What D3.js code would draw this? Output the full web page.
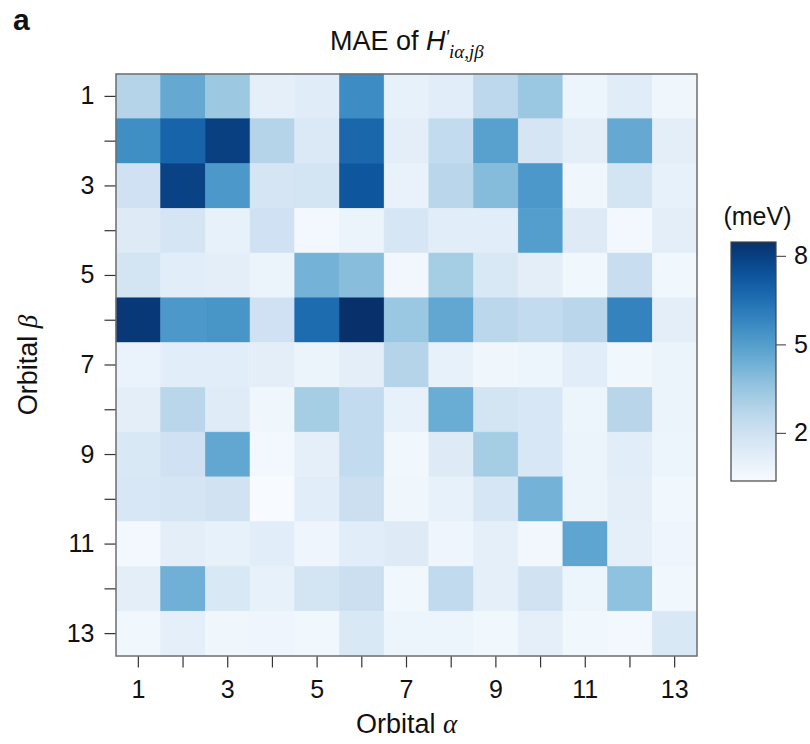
<!DOCTYPE html>
<html>
<head>
<meta charset="utf-8">
<script src="https://cdn.jsdelivr.net/npm/d3@7"></script>
<style>
  html, body { margin: 0; padding: 0; background: #fff; }
  svg { display: block; }
  text { font-family: "Liberation Sans", Arial, Helvetica, sans-serif; fill: #111; }
</style>
</head>
<body>
<svg id="chart" width="810" height="744"></svg>
<script>
// Orbital indices along each axis
const orbitalsAlpha = [1, 2, 3, 4, 5, 6, 7, 8, 9, 10, 11, 12, 13];
const orbitalsBeta  = [1, 2, 3, 4, 5, 6, 7, 8, 9, 10, 11, 12, 13];

// MAE (meV) per orbital pair: one array per orbital β (row), entries by orbital α
const maeBeta1  = [2.80, 4.60, 3.40, 1.10, 1.30, 5.60, 1.00, 1.26, 2.60, 3.45, 0.77, 1.30, 0.70];
const maeBeta2  = [5.55, 6.85, 7.98, 2.80, 1.50, 6.77, 1.18, 2.40, 4.90, 1.75, 1.18, 4.60, 1.18];
const maeBeta3  = [2.00, 7.90, 5.20, 1.75, 1.83, 7.30, 0.94, 2.70, 3.90, 5.20, 0.70, 1.83, 1.00];
const maeBeta4  = [1.40, 1.75, 1.00, 2.00, 0.53, 0.86, 1.67, 1.26, 1.26, 5.00, 1.40, 0.53, 1.18];
const maeBeta5  = [1.83, 1.26, 1.18, 0.86, 4.26, 3.85, 0.61, 3.20, 1.60, 1.18, 0.65, 2.23, 0.65];
const maeBeta6  = [8.23, 5.20, 5.30, 2.00, 6.60, 8.47, 3.45, 4.66, 2.64, 2.40, 2.68, 5.88, 1.18];
const maeBeta7  = [0.90, 1.26, 1.26, 1.18, 0.86, 1.18, 2.80, 1.00, 0.70, 0.77, 1.26, 0.65, 0.86];
const maeBeta8  = [1.18, 2.68, 1.34, 0.70, 3.20, 2.40, 1.00, 4.50, 1.83, 1.63, 0.77, 2.72, 0.86];
const maeBeta9  = [1.60, 2.00, 4.66, 0.53, 1.10, 2.40, 0.65, 1.40, 3.20, 1.63, 0.86, 1.26, 0.77];
const maeBeta10 = [1.63, 1.75, 1.90, 0.37, 1.26, 2.15, 0.70, 1.00, 1.67, 4.26, 0.86, 1.18, 0.65];
const maeBeta11 = [0.53, 1.18, 1.00, 1.26, 0.73, 1.26, 1.40, 0.73, 1.10, 0.61, 4.74, 1.10, 0.73];
const maeBeta12 = [1.18, 4.34, 1.60, 1.00, 1.83, 2.15, 0.65, 2.44, 1.10, 1.90, 0.77, 3.69, 0.65];
const maeBeta13 = [0.65, 1.10, 0.70, 0.73, 0.65, 1.60, 0.77, 0.81, 0.65, 1.10, 0.65, 0.53, 1.60];

const maeRows = [maeBeta1, maeBeta2, maeBeta3, maeBeta4, maeBeta5, maeBeta6, maeBeta7,
                 maeBeta8, maeBeta9, maeBeta10, maeBeta11, maeBeta12, maeBeta13];

// Colour-bar tick values
const colorbarTicks = [2, 5, 8];

// Flatten into cells
const cells = [];
maeRows.forEach((row, i) => {
  row.forEach((v, j) => cells.push({ beta: orbitalsBeta[i], alpha: orbitalsAlpha[j], value: v }));
});

const svg = d3.select("#chart");

const plot = { left: 116, right: 697, top: 74, bottom: 656 };

const x = d3.scaleBand().domain(orbitalsAlpha).range([plot.left, plot.right]).padding(0);
const y = d3.scaleBand().domain(orbitalsBeta).range([plot.top, plot.bottom]).padding(0);

const extent = d3.extent(cells, d => d.value);
const color = d3.scaleSequential(d3.interpolateBlues).domain(extent);

// Heatmap cells
svg.append("g")
  .selectAll("rect")
  .data(cells)
  .join("rect")
  .attr("x", d => x(d.alpha))
  .attr("y", d => y(d.beta))
  .attr("width", x.bandwidth())
  .attr("height", y.bandwidth())
  .attr("fill", d => color(d.value))
  .attr("stroke", d => color(d.value))
  .attr("stroke-width", 0.6);

// Frame around the heatmap
svg.append("rect")
  .attr("x", plot.left)
  .attr("y", plot.top)
  .attr("width", plot.right - plot.left)
  .attr("height", plot.bottom - plot.top)
  .attr("fill", "none")
  .attr("stroke", "#6e6e6e")
  .attr("stroke-width", 1.5);

const oddOnly = d => (d % 2 === 1 ? d : "");

// Bottom axis
const xAxis = svg.append("g")
  .attr("transform", `translate(0,${plot.bottom + 0.5})`)
  .call(d3.axisBottom(x).tickSize(11).tickPadding(13).tickFormat(oddOnly));
xAxis.select(".domain").remove();
xAxis.selectAll(".tick line").attr("stroke", "#333").attr("stroke-width", 1.2);
xAxis.selectAll(".tick text").attr("font-size", 25).attr("fill", "#111")
  .attr("font-family", "Liberation Sans, Arial, sans-serif");

// Left axis
const yAxis = svg.append("g")
  .attr("transform", `translate(${plot.left - 0.5},0)`)
  .call(d3.axisLeft(y).tickSize(11).tickPadding(10).tickFormat(oddOnly));
yAxis.select(".domain").remove();
yAxis.selectAll(".tick line").attr("stroke", "#333").attr("stroke-width", 1.2);
yAxis.selectAll(".tick text").attr("font-size", 25).attr("fill", "#111")
  .attr("font-family", "Liberation Sans, Arial, sans-serif");

// Axis titles
const xTitle = svg.append("text")
  .attr("x", (plot.left + plot.right) / 2)
  .attr("y", 733)
  .attr("text-anchor", "middle")
  .attr("font-size", 27);
xTitle.append("tspan").text("Orbital ");
xTitle.append("tspan").attr("font-family", "Liberation Serif, serif").attr("font-style", "italic").text("α");

const yTitle = svg.append("text")
  .attr("transform", `translate(37,${(plot.top + plot.bottom) / 2}) rotate(-90)`)
  .attr("text-anchor", "middle")
  .attr("font-size", 27);
yTitle.append("tspan").text("Orbital ");
yTitle.append("tspan").attr("font-family", "Liberation Serif, serif").attr("font-style", "italic").text("β");

// Chart title: MAE of H′ with subscript iα,jβ
const title = svg.append("text")
  .attr("x", 330)
  .attr("y", 50)
  .attr("font-size", 27);
title.append("tspan").text("MAE of ");
title.append("tspan").attr("font-style", "italic").text("H");
title.append("tspan").attr("font-style", "italic").attr("font-size", 19).attr("dy", -7).text("′");
title.append("tspan").attr("font-family", "Liberation Serif, serif").attr("font-style", "italic")
  .attr("font-size", 19).attr("dx", 0).attr("dy", 15).text("iα,jβ");

// Panel label
svg.append("text")
  .attr("x", 13)
  .attr("y", 30)
  .attr("font-size", 30)
  .attr("font-weight", "bold")
  .text("a");

// Colour bar
const cb = { x: 731, width: 45, top: 242, bottom: 481 };
const cbScale = d3.scaleLinear().domain(extent).range([cb.bottom, cb.top]);

const defs = svg.append("defs");
const grad = defs.append("linearGradient")
  .attr("id", "cbGrad")
  .attr("x1", "0").attr("y1", "1").attr("x2", "0").attr("y2", "0");
d3.range(0, 1.0001, 0.05).forEach(t => {
  grad.append("stop").attr("offset", t).attr("stop-color", d3.interpolateBlues(t));
});

svg.append("rect")
  .attr("x", cb.x)
  .attr("y", cb.top)
  .attr("width", cb.width)
  .attr("height", cb.bottom - cb.top)
  .attr("fill", "url(#cbGrad)")
  .attr("stroke", "#444")
  .attr("stroke-width", 1.2);

const cbAxis = svg.append("g")
  .attr("transform", `translate(${cb.x + cb.width},0)`)
  .call(d3.axisRight(cbScale).tickValues(colorbarTicks).tickSize(10).tickPadding(8).tickFormat(d3.format("d")));
cbAxis.select(".domain").remove();
cbAxis.selectAll(".tick line").attr("stroke", "#555").attr("stroke-width", 1.2);
cbAxis.selectAll(".tick text").attr("font-size", 25).attr("fill", "#111")
  .attr("font-family", "Liberation Sans, Arial, sans-serif");

svg.append("text")
  .attr("x", cb.x + cb.width / 2 + 4)
  .attr("y", 225)
  .attr("text-anchor", "middle")
  .attr("font-size", 25)
  .text("(meV)");
</script>
</body>
</html>
